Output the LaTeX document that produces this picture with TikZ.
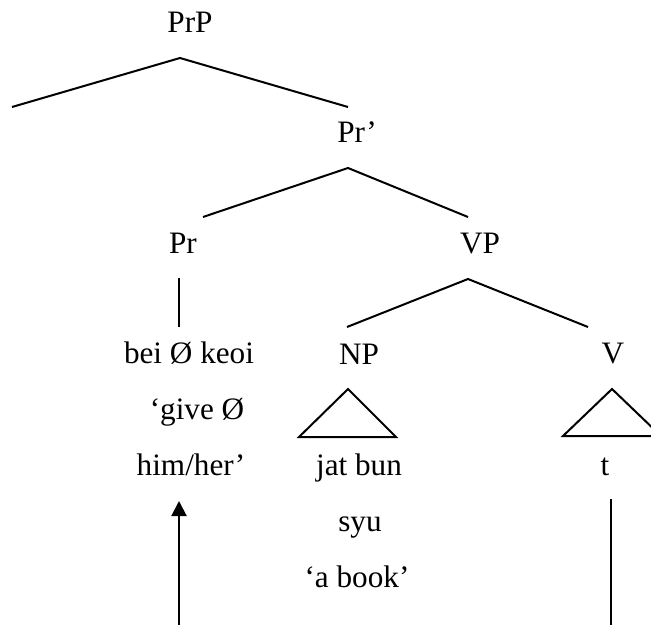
\documentclass[tikz,border=0pt]{standalone}
\usepackage{fontspec}
\setmainfont{Liberation Serif}
\usetikzlibrary{arrows.meta}
\tikzstyle{word}=[anchor=base,inner sep=0pt,font=\fontsize{15.6}{18}\selectfont]
\tikzstyle{branch}=[line width=1pt]

\begin{document}
\begin{tikzpicture}[x=0.5pt,y=-0.5pt]

   \useasboundingbox (0,0) rectangle (651,625);
   \clip (0,0) rectangle (651,625);

    % category labels
    \foreach \pos/ \name / \label in {{(190,33)/PrP/PrP}, {(357,143)/Prbar/Pr’}, {(183,253)/Pr/Pr},
        {(480,253)/VP/VP}, {(359,364)/NP/NP}, {(613,363)/V/V}}
        \node[word] (\name) at \pos {\label};

    % words and glosses
    \foreach \pos/ \name / \label in {{(189,363)/bei/bei Ø keoi}, {(197,419)/give/‘give Ø}, {(191,475)/him/{him/her’}},
        {(359,475)/jat/jat bun}, {(360,531)/syu/syu}, {(357,587)/book/‘a book’}, {(605,475)/t/t}}
        \node[word] (\name) at \pos {\label};

    \coordinate (PrPtop) at (180,58);
    \coordinate (SpecEnd) at (12,107);
    \coordinate (PrbarEnd) at (348,107);
    \coordinate (Prbartop) at (348,168);
    \coordinate (PrEnd) at (203,217);
    \coordinate (VPEnd) at (468,217);
    \coordinate (VPtop) at (468,279);
    \coordinate (NPEnd) at (347,327);
    \coordinate (VEnd) at (588,327);
    \coordinate (PrTop) at (179,278);
    \coordinate (PrBot) at (179,327);
    \coordinate (NPtri) at (348,389);
    \coordinate (Vtri) at (612,389);
    \coordinate (ArrowFoot) at (179,625);
    \coordinate (ArrowTip) at (179,501);
    \coordinate (TraceTop) at (611,499);
    \coordinate (TraceFoot) at (611,625);

    \draw[branch] (SpecEnd) -- (PrPtop) -- (PrbarEnd);
    \draw[branch] (PrEnd) -- (Prbartop) -- (VPEnd);
    \draw[branch] (NPEnd) -- (VPtop) -- (VEnd);
    \draw[branch] (PrTop) -- (PrBot);
    \draw[branch] (NPtri) -- ++(-49,48) -- ++(97,0) -- cycle;
    \draw[branch] (Vtri) -- ++(-49,47) -- ++(98,0) -- cycle;

    % movement
    \draw[branch,-{Triangle[width=7.5pt,length=7.5pt]}] (ArrowFoot) -- (ArrowTip);
    \draw[branch] (TraceTop) -- (TraceFoot);
\end{tikzpicture}
\end{document}
